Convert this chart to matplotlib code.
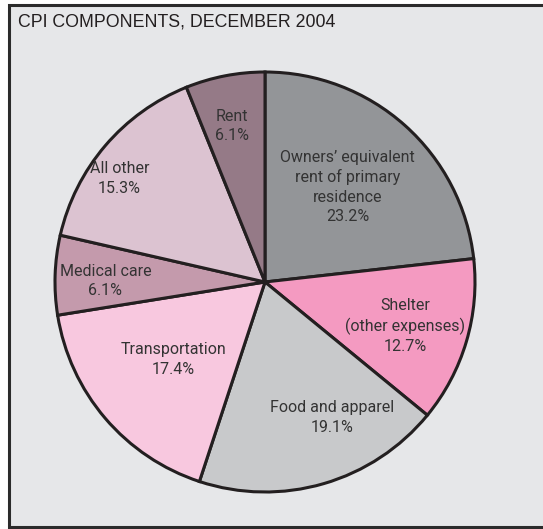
import math
import matplotlib
matplotlib.use("Agg")
import matplotlib.pyplot as plt
from matplotlib.patches import Rectangle

# CPI components, December 2004 (percent of all items)
components = [
    "Owners\u2019 equivalent\nrent of primary\nresidence",
    "Shelter\n(other expenses)",
    "Food and apparel",
    "Transportation",
    "Medical care",
    "All other",
    "Rent",
]
shares = [23.2, 12.7, 19.1, 17.4, 6.1, 15.3, 6.1]
colors = ["#939598", "#f49ac1", "#c8c9cb", "#f8c8df", "#c49aac", "#dcc3d1", "#957a87"]

# label placement (radius as fraction of pie radius, angle in degrees)
label_r = [0.60, 0.70, 0.72, 0.57, 0.76, 0.85, 0.76]
label_ang = [49, -17.4, -63.6, -139.7, 179.5, 144.6, 101.9]

W, H = 543, 529
fig = plt.figure(figsize=(W / 100, H / 100), dpi=100)
fig.patch.set_facecolor("white")

# panel frame
frame = Rectangle((8.5 / W, (H - 527) / H), (W + 5 - 8.5) / W, (527 - 4.5) / H,
                  transform=fig.transFigure, facecolor="#e6e7e9",
                  edgecolor="#2b2b2b", linewidth=2.2, zorder=-1)
fig.patches.append(frame)

fig.text(18 / W, 1 - 22 / H, "CPI COMPONENTS, DECEMBER 2004", fontsize=12.8,
         family="Liberation Sans", color="#231f20", va="center", ha="left")

cx, cy, R = 265, 282, 210
ax = fig.add_axes([(cx - R) / W, (H - cy - R) / H, 2 * R / W, 2 * R / H])
ax.set_zorder(2)
ax.patch.set_visible(False)

ax.pie(shares, colors=colors, startangle=90, counterclock=False, radius=1,
       wedgeprops=dict(edgecolor="#231f20", linewidth=2.2))
ax.set_xlim(-1.0, 1.0)
ax.set_ylim(-1.0, 1.0)
ax.axis("off")

for name, val, r, a in zip(components, shares, label_r, label_ang):
    x = r * math.cos(math.radians(a))
    y = r * math.sin(math.radians(a))
    ax.text(x, y, f"{name}\n{val}%", ha="center", va="center",
            fontsize=11.5, family="Roboto", color="#333333", linespacing=1.35)

fig.savefig("out.png", dpi=100)
